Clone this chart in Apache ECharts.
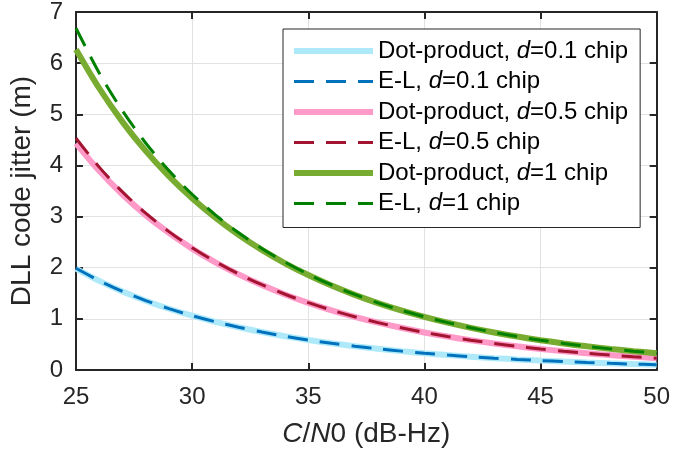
<!DOCTYPE html>
<html>
<head>
<meta charset="utf-8">
<script src="https://cdn.jsdelivr.net/npm/echarts@6/dist/echarts.min.js"></script>
<style>
  html, body { margin: 0; padding: 0; background: #fff; }
  #chart { width: 673px; height: 454px; }
</style>
</head>
<body>
<div id="chart"></div>
<script>
// Carrier-to-noise density ratio (dB-Hz)
const cn0 = [25, 26, 27, 28, 29, 30, 31, 32, 33, 34, 35, 36, 37, 38, 39, 40, 41, 42, 43, 44, 45, 46, 47, 48, 49, 50];

// DLL code jitter (m), one array per discriminator / spacing
const dot01 = [1.982, 1.742, 1.534, 1.355, 1.198, 1.062, 0.942, 0.836, 0.742, 0.660, 0.587, 0.522, 0.465, 0.414, 0.369, 0.328, 0.292, 0.261, 0.232, 0.207, 0.184, 0.164, 0.146, 0.130, 0.116, 0.104];
const el01  = [1.989, 1.747, 1.538, 1.357, 1.200, 1.063, 0.943, 0.836, 0.743, 0.660, 0.587, 0.522, 0.465, 0.414, 0.369, 0.328, 0.292, 0.261, 0.232, 0.207, 0.184, 0.164, 0.146, 0.130, 0.116, 0.104];
const dot05 = [4.433, 3.895, 3.431, 3.029, 2.680, 2.373, 2.106, 1.869, 1.660, 1.476, 1.312, 1.168, 1.040, 0.926, 0.825, 0.734, 0.654, 0.583, 0.519, 0.463, 0.412, 0.367, 0.327, 0.292, 0.260, 0.232];
const el05  = [4.532, 3.967, 3.482, 3.066, 2.706, 2.392, 2.119, 1.878, 1.667, 1.481, 1.316, 1.171, 1.042, 0.927, 0.825, 0.735, 0.654, 0.583, 0.519, 0.463, 0.412, 0.367, 0.327, 0.292, 0.260, 0.232];
const dot1  = [6.269, 5.509, 4.852, 4.284, 3.789, 3.357, 2.978, 2.643, 2.348, 2.087, 1.857, 1.652, 1.470, 1.309, 1.166, 1.039, 0.925, 0.824, 0.734, 0.654, 0.583, 0.520, 0.463, 0.413, 0.368, 0.328];
const el1   = [6.683, 5.808, 5.068, 4.439, 3.900, 3.436, 3.034, 2.683, 2.376, 2.108, 1.871, 1.663, 1.477, 1.314, 1.169, 1.041, 0.927, 0.826, 0.735, 0.655, 0.583, 0.520, 0.463, 0.413, 0.368, 0.328];

// Legend entries: [name, label prefix, label suffix]; the spacing symbol d sits between them
const names = [
  ['Dot-product, d=0.1 chip', 'Dot-product, ', '=0.1 chip'],
  ['E-L, d=0.1 chip',         'E-L, ',         '=0.1 chip'],
  ['Dot-product, d=0.5 chip', 'Dot-product, ', '=0.5 chip'],
  ['E-L, d=0.5 chip',         'E-L, ',         '=0.5 chip'],
  ['Dot-product, d=1 chip',   'Dot-product, ', '=1 chip'],
  ['E-L, d=1 chip',           'E-L, ',         '=1 chip']
];
const seriesValues = [dot01, el01, dot05, el05, dot1, el1];
const colors = ['#aee9fa', '#0072bd', '#ff99c8', '#a2142f', '#77ac30', '#008000'];
const solidWidth = 6;
const dashWidth = 3;
const dashPattern = [20, 12];

const FONT = "'Liberation Sans', Arial, Helvetica, sans-serif";
const INK = '#262626';

const series = seriesValues.map((vals, i) => {
  const dashed = i % 2 === 1;
  return {
    name: names[i][0],
    type: 'line',
    xAxisIndex: 0,
    yAxisIndex: 0,
    showSymbol: false,
    symbol: 'none',
    smooth: 0.3,
    data: cn0.map((x, k) => [x, vals[k]]),
    lineStyle: {
      color: colors[i],
      width: dashed ? dashWidth : solidWidth,
      type: dashed ? dashPattern : 'solid',
      cap: 'butt'
    },
    itemStyle: { color: colors[i] },
    z: 2 + i
  };
});

// Legend rows keep the full line width of each series; the marker dot is hidden
const legendData = names.map((n, i) => ({
  name: n[0],
  lineStyle: { width: i % 2 === 1 ? dashWidth : solidWidth }
}));

const chart = echarts.init(document.getElementById('chart'), null, { renderer: 'canvas' });

const tickText = { color: INK, fontSize: 24, fontFamily: FONT };

chart.setOption({
  animation: false,
  backgroundColor: '#ffffff',
  grid: { left: 76, right: 15, top: 11, bottom: 84, containLabel: false },
  legend: {
    show: true,
    orient: 'vertical',
    left: 283,
    top: 29,
    padding: [10, 12, 12, 8],
    itemGap: 6.5,
    itemWidth: 79,
    itemHeight: 14,
    backgroundColor: '#ffffff',
    borderColor: INK,
    borderWidth: 1,
    selectedMode: false,
    itemStyle: { opacity: 0 },
    data: legendData,
    formatter: function (name) {
      const n = names.find(e => e[0] === name);
      return '{n|' + n[1] + '}{i|d}{n|' + n[2] + '}';
    },
    textStyle: {
      color: '#000',
      fontSize: 24,
      fontFamily: FONT,
      rich: {
        n: { fontSize: 24, fontFamily: FONT, color: '#000' },
        i: { fontSize: 24, fontFamily: FONT, fontStyle: 'italic', color: '#000' }
      }
    }
  },
  xAxis: [
    {
      type: 'value',
      min: 25, max: 50, interval: 5,
      position: 'bottom',
      name: '{i|C}/{i|N}0 (dB-Hz)',
      nameLocation: 'middle',
      nameGap: 50,
      nameTextStyle: {
        color: INK, fontSize: 28, fontFamily: FONT,
        rich: {
          i: { fontSize: 28, fontFamily: FONT, fontStyle: 'italic', color: INK }
        }
      },
      axisLine: { show: true, onZero: false, lineStyle: { color: INK, width: 2 } },
      axisTick: { show: true, inside: true, length: 7, lineStyle: { color: INK, width: 2 } },
      axisLabel: Object.assign({ margin: 15 }, tickText),
      splitLine: { show: true, lineStyle: { color: '#e2e2e2', width: 1 } }
    },
    {
      type: 'value',
      min: 25, max: 50, interval: 5,
      position: 'top',
      axisLine: { show: true, onZero: false, lineStyle: { color: INK, width: 2 } },
      axisTick: { show: true, inside: true, length: 7, lineStyle: { color: INK, width: 2 } },
      axisLabel: { show: false },
      splitLine: { show: false }
    }
  ],
  yAxis: [
    {
      type: 'value',
      min: 0, max: 7, interval: 1,
      position: 'left',
      name: 'DLL code jitter (m)',
      nameLocation: 'middle',
      nameGap: 40,
      nameTextStyle: { color: INK, fontSize: 28, fontFamily: FONT },
      axisLine: { show: true, onZero: false, lineStyle: { color: INK, width: 2 } },
      axisTick: { show: true, inside: true, length: 7, lineStyle: { color: INK, width: 2 } },
      axisLabel: Object.assign({ margin: 13 }, tickText),
      splitLine: { show: true, lineStyle: { color: '#e2e2e2', width: 1 } }
    },
    {
      type: 'value',
      min: 0, max: 7, interval: 1,
      position: 'right',
      axisLine: { show: true, onZero: false, lineStyle: { color: INK, width: 2 } },
      axisTick: { show: true, inside: true, length: 7, lineStyle: { color: INK, width: 2 } },
      axisLabel: { show: false },
      splitLine: { show: false }
    }
  ],
  series: series
});
</script>
</body>
</html>
